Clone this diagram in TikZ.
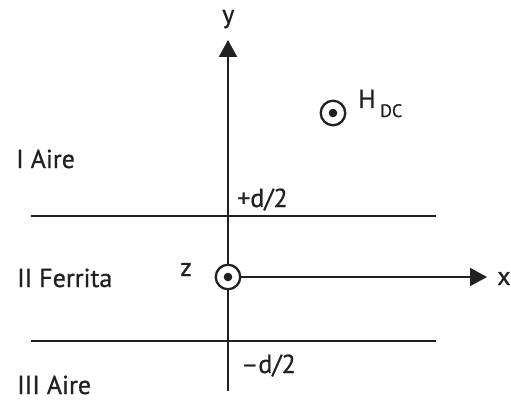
\documentclass[tikz,border=0pt]{standalone}
\usepackage{fontspec}
\setmainfont{PT Sans}[RawFeature={embolden=0.7}]
\usetikzlibrary{arrows.meta}
\definecolor{ink}{HTML}{231F20}
\begin{document}
\begin{tikzpicture}[x=1pt,y=-1pt,
  axis/.style={line width=2pt,color=ink,-{Triangle[length=17pt,width=18pt]}},
  bound/.style={line width=1.6pt,color=ink},
  lbl/.style={font=\fontsize{26}{30}\selectfont,text=ink,inner sep=0pt,anchor=base west},
  dotc/.style={circle,draw=ink,line width=2.3pt,fill=white,minimum size=24.5pt,inner sep=0pt}]
\useasboundingbox (0,0) rectangle (511,401);
\coordinate (ytop) at (228,40);
\coordinate (ybot) at (228,391);
\coordinate (xtip) at (487,277);
\coordinate (l1a) at (31,216); \coordinate (l1b) at (436,216);
\coordinate (l2a) at (31,341); \coordinate (l2b) at (436,341);
\draw[bound] (l1a) -- (l1b);
\draw[bound] (l2a) -- (l2b);
\draw[axis] (ybot) -- (ytop);
\node[dotc] (z0) at (228,277) {};
\draw[axis] (z0.east) -- (xtip);
\fill[ink] (z0) circle (4.3pt);
\node[dotc] (h0) at (333,113) {};
\fill[ink] (h0) circle (4.3pt);
\node[lbl] (hl) at (358,108) {H};
\node[lbl,font=\fontsize{18}{20}\selectfont] (hs) at (380,117) {DC};
\node[lbl] (yl) at (222,23) {y};
\node[lbl] (xl) at (497,285) {x};
\node[lbl] (zl) at (180,276) {z};
\node[lbl] (a1) at (16,168) {I Aire};
\node[lbl] (a2) at (17,287) {II Ferrita};
\node[lbl] (a3) at (17,394) {III Aire};
\node[lbl] (d1) at (237,207) {+d/2};
\node[lbl] (d2) at (241,373) {\textendash d/2};
\end{tikzpicture}
\end{document}
